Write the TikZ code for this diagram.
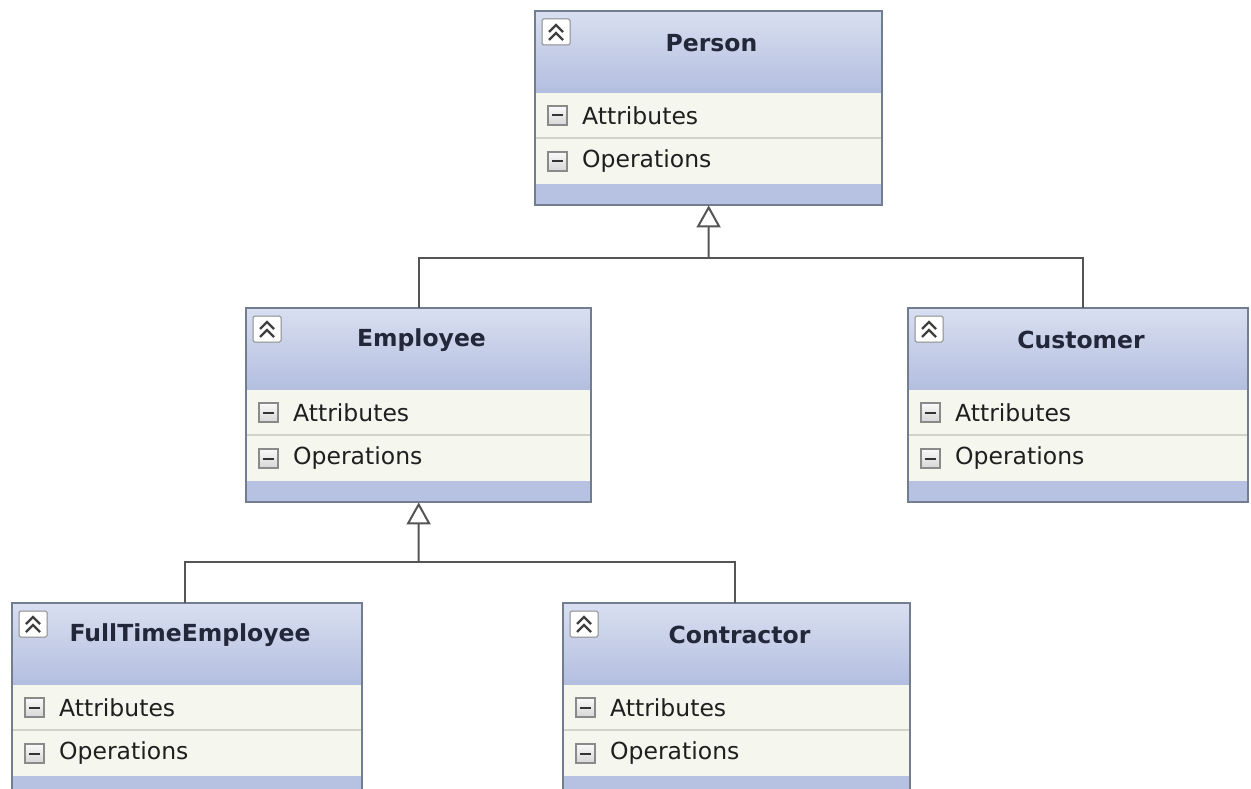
\documentclass[tikz,border=0pt]{standalone}
\usepackage{fontspec}
\setmainfont{DejaVu Sans}
\usetikzlibrary{arrows.meta,calc}

\definecolor{hdtop}{HTML}{D9DFF1}
\definecolor{hdbot}{HTML}{B3BEDF}
\definecolor{rowbg}{HTML}{F5F6EE}
\definecolor{bandbg}{HTML}{B7C2E2}
\definecolor{framecol}{HTML}{737D90}
\definecolor{sepcol}{HTML}{D2D2CA}
\definecolor{linkcol}{HTML}{555555}
\definecolor{titlecol}{HTML}{22273A}
\definecolor{textcol}{HTML}{1F1F1F}
\definecolor{iconedge}{HTML}{8A8A8A}
\definecolor{icontop}{HTML}{FAFAFA}
\definecolor{iconbot}{HTML}{D6D6D6}

\tikzset{
  classframe/.style={rectangle, inner sep=0pt, anchor=north west, minimum height=194pt},
  titletext/.style={inner sep=0pt, text=titlecol, font=\fontsize{23.5}{28}\selectfont\bfseries},
  rowtext/.style={inner sep=0pt, anchor=west, text=textcol, font=\fontsize{23.5}{28}\selectfont},
  rowicon/.style={draw=iconedge, line width=1.2pt, top color=icontop, bottom color=iconbot},
  link/.style={draw=linkcol, line width=2pt},
  inherit/.style={link, -{Triangle[open, length=22pt, width=24pt, line width=2pt]}},
}

% UML class box: name, left x, top y, width, title
\newcommand{\umlclass}[5]{%
  \node[classframe, minimum width=#4pt] (#1) at (#2,-#3) {};
  \begin{scope}[shift={(#1.north west)}]
    \shade[top color=hdtop, bottom color=hdbot] (0,0) rectangle (#4,-82);
    \fill[rowbg] (0,-82) rectangle (#4,-173);
    \draw[sepcol, line width=1.2pt] (0,-127) -- (#4,-127);
    \fill[bandbg] (0,-173) rectangle (#4,-194);
    \draw[framecol, line width=2pt] (0,0) rectangle (#4,-194);
    % collapse button
    \draw[iconedge, fill=white, line width=1pt, rounded corners=1.5pt] (7,-8) rectangle (35,-34);
    \draw[black!75, line width=2.2pt] (14,-21) -- (21,-14) -- (28,-21);
    \draw[black!75, line width=2.2pt] (14,-29) -- (21,-22) -- (28,-29);
    \node[titletext] (#1-title) at ({#4/2+3},-32) {#5};
    % compartments
    \draw[rowicon] (13,-95) rectangle (32,-114);
    \draw[black!80, line width=2pt] (17,-104.5) -- (28,-104.5);
    \node[rowtext] (#1-attr) at (47,-104.5) {Attributes};
    \draw[rowicon] (13,-141) rectangle (32,-160);
    \draw[black!80, line width=2pt] (17,-150.5) -- (28,-150.5);
    \node[rowtext] (#1-ops) at (47,-150.5) {Operations};
  \end{scope}
}

\begin{document}
\begin{tikzpicture}[x=1pt, y=1pt]
  \useasboundingbox (0,0) rectangle (1251,-789);
  \fill[white] (0,0) rectangle (1251,-789);
  \clip (0,0) rectangle (1251,-789);

  \umlclass{person}{535}{11}{347}{Person}
  \umlclass{employee}{246}{308}{345}{Employee}
  \umlclass{customer}{908}{308}{340}{Customer}
  \umlclass{fulltime}{12}{603}{350}{FullTimeEmployee}
  \umlclass{contractor}{563}{603}{347}{Contractor}

  % generalisation: Employee, Customer -> Person
  \coordinate (j1) at (708.5,-258);
  \draw[link] (employee.north) |- (j1);
  \draw[link] ($(customer.north west)+(175,0)$) |- (j1);
  \draw[inherit] (j1) -- (person.south);

  % generalisation: FullTimeEmployee, Contractor -> Employee
  \coordinate (j2) at (418.5,-562);
  \draw[link] ($(fulltime.north west)+(173,0)$) |- (j2);
  \draw[link] ($(contractor.north west)+(172,0)$) |- (j2);
  \draw[inherit] (j2) -- (employee.south);
\end{tikzpicture}
\end{document}
